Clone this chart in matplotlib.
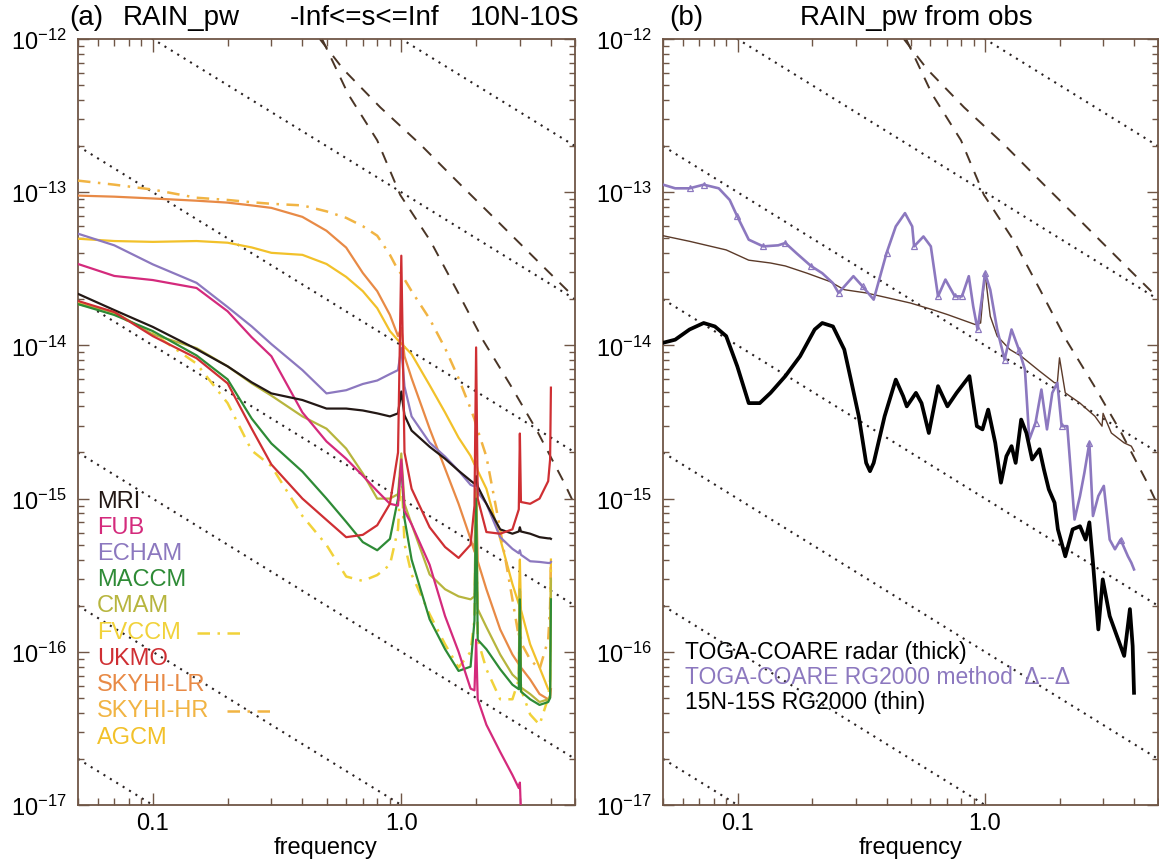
import numpy as np
import matplotlib
matplotlib.use("Agg")
import matplotlib.pyplot as plt
from matplotlib.lines import Line2D
from matplotlib.ticker import LogLocator, FixedLocator, FixedFormatter, NullFormatter

plt.rcParams['font.family'] = ['Liberation Sans', 'DejaVu Sans']
plt.rcParams['mathtext.fontset'] = 'custom'
plt.rcParams['mathtext.rm'] = 'Liberation Sans'
plt.rcParams['mathtext.it'] = 'Liberation Sans:italic'
plt.rcParams['mathtext.bf'] = 'Liberation Sans:bold'

nan = float('nan')

# ---------------- data: panel (a) models ----------------
freq_models = [0.05, 0.07, 0.1, 0.15, 0.2, 0.25, 0.3, 0.4, 0.5, 0.6, 0.7, 0.8, 0.9, 0.97, 1.0,
               1.03, 1.1, 1.3, 1.5, 1.7, 1.9, 1.97, 2.0, 2.03, 2.2, 2.5, 2.8, 2.97, 3.0, 3.03,
               3.3, 3.6, 3.9, 3.97, 4.0]

mri = [2.17e-14, 1.7e-14, 1.32e-14, 9.45e-15, 7.3e-15, 5.74e-15, 4.86e-15, 4.4e-15, 3.87e-15, 3.87e-15,
       3.76e-15, 3.6e-15, 3.44e-15, 3.6e-15, 5.0e-15, 3.5e-15, 2.78e-15, 2.18e-15, 1.82e-15, 1.52e-15,
       1.31e-15, 1.25e-15, 1.4e-15, 1.2e-15, 9.25e-16, 6.3e-16, 5.9e-16, 6.1e-16, 6.5e-16, 6.1e-16,
       5.9e-16, 5.6e-16, 5.5e-16, 5.5e-16, 5.46e-16]
fub = [3.4e-14, 2.84e-14, 2.67e-14, 2.37e-14, 1.67e-14, 1.13e-14, 8.5e-15, 3.65e-15, 2.36e-15, 1.82e-15,
       1.41e-15, 1.12e-15, 9.25e-16, 9.0e-16, 1.8e-15, 8.3e-16, 6.8e-16, 3.7e-16, 1.71e-16, 1.0e-16,
       5.75e-17, 5.6e-17, 1.2e-16, 4.9e-17, 3.34e-17, 2.22e-17, 1.57e-17, 1.29e-17, 1.4e-17, 9.0e-18,
       nan, nan, nan, nan, nan]
echam = [5.36e-14, 4.5e-14, 3.38e-14, 2.56e-14, 1.78e-14, 1.33e-14, 1.02e-14, 6.9e-15, 4.86e-15, 5.1e-15,
         5.6e-15, 5.9e-15, 6.5e-15, 6.9e-15, 9.6e-15, 5.4e-15, 3.44e-15, 2.32e-15, 1.88e-15, 1.52e-15,
         1.23e-15, 1.2e-15, 1.3e-15, 1.1e-15, 9.25e-16, 5.6e-16, 4.7e-16, 4.4e-16, 4.6e-16, 4.3e-16,
         3.9e-16, 3.86e-16, 3.8e-16, 3.8e-16, 3.86e-16]
maccm = [1.86e-14, 1.58e-14, 1.24e-14, 8.6e-15, 6.0e-15, 3.33e-15, 2.29e-15, 1.5e-15, 1.0e-15, 7.05e-16,
         5.2e-16, 4.6e-16, 5.46e-16, 1.0e-15, 1.69e-15, 7.4e-16, 4.0e-16, 1.63e-16, 1.04e-16, 7.5e-17,
         8.0e-17, 1.6e-16, 1.0e-15, 1.2e-16, 1.04e-16, 7.7e-17, 6.1e-17, 5.7e-17, 2.2e-16, 5.5e-17,
         4.9e-17, 4.5e-17, 4.7e-17, 5.0e-17, 2.2e-16]
cmam = [1.86e-14, 1.65e-14, 1.18e-14, 9.6e-15, 7.3e-15, 5.65e-15, 4.7e-15, 3.44e-15, 2.86e-15, 2.12e-15,
        1.46e-15, 1.0e-15, 1.0e-15, 1.07e-15, 1.97e-15, 9.25e-16, 6.8e-16, 3.2e-16, 2.56e-16, 2.3e-16,
        2.2e-16, 2.3e-16, 1.16e-15, 1.9e-16, 1.45e-16, 9.6e-17, 7.1e-17, 6.5e-17, 2.56e-16, 5.85e-17,
        5.3e-17, 4.7e-17, 4.9e-17, 5.2e-17, 3.0e-16]
fvccm = [1.89e-14, 1.6e-14, 1.2e-14, 7.6e-15, 4.2e-15, 2.06e-15, 1.63e-15, 7.7e-16, 4.98e-16, 3.1e-16,
         2.9e-16, 3.17e-16, 3.7e-16, 6.3e-16, 1.57e-15, 5.06e-16, 3.2e-16, 1.76e-16, 1.12e-16, 7.9e-17,
         1.0e-16, 1.63e-16, 1.0e-15, 1.2e-16, 7.7e-17, 4.9e-17, 4.9e-17, 6.6e-17, 2.56e-16, 5.7e-17,
         3.9e-17, 3.34e-17, 5.0e-17, 6.6e-17, 3.47e-16]
ukmo = [1.95e-14, 1.65e-14, 1.15e-14, 8.25e-15, 5.65e-15, 2.86e-15, 1.67e-15, 1.0e-15, 7.26e-16, 5.6e-16,
        5.8e-16, 6.7e-16, 9.25e-16, 2.0e-15, 3.85e-14, 2.0e-15, 1.16e-15, 6.5e-16, 4.83e-16, 4.1e-16,
        5.0e-16, 9.0e-16, 9.7e-15, 1.0e-15, 6.05e-16, 5.9e-16, 6.3e-16, 8.5e-16, 2.66e-15, 9.5e-16,
        9.25e-16, 1.0e-15, 1.3e-15, 1.8e-15, 5.3e-15]
skyhi_lr = [9.5e-14, 9.35e-14, 9.1e-14, 8.8e-14, 8.55e-14, 8.2e-14, 7.9e-14, 6.9e-14, 5.6e-14, 4.35e-14,
            2.97e-14, 2.26e-14, 1.58e-14, 1.15e-14, 1.3e-14, 8.5e-15, 6.1e-15, 2.86e-15, 1.57e-15, 9.25e-16,
            5.46e-16, 4.5e-16, 1.16e-15, 3.9e-16, 2.56e-16, 1.4e-16, 9.6e-17, 8.3e-17, 2.2e-16, 7.9e-17,
            6.6e-17, 5.3e-17, 4.9e-17, 5.0e-17, 5.7e-17]
skyhi_hr = [1.19e-13, 1.12e-13, 1.04e-13, 9.2e-14, 8.9e-14, 8.6e-14, 8.4e-14, 8.2e-14, 7.5e-14, 6.8e-14,
            6.0e-14, 5.2e-14, 3.9e-14, 3.1e-14, 2.93e-14, 2.7e-14, 2.26e-14, 1.49e-14, 9.6e-15, 6.1e-15,
            3.87e-15, 3.3e-15, 3.0e-15, 2.8e-15, 1.88e-15, 6.3e-16, 2.2e-16, 1.25e-16, 2.5e-16, 1.15e-16,
            8.9e-17, 7.7e-17, 1.2e-16, 2.0e-16, 4.0e-16]
agcm = [4.97e-14, 4.8e-14, 4.74e-14, 4.8e-14, 4.68e-14, 4.36e-14, 4.02e-14, 3.9e-14, 3.4e-14, 2.8e-14,
        2.26e-14, 1.75e-14, 1.24e-14, 1.08e-14, 1.03e-14, 9.8e-15, 8.76e-15, 5.5e-15, 3.65e-15, 2.5e-15,
        1.9e-15, 1.67e-15, 1.75e-15, 1.52e-15, 1.16e-15, 5.46e-16, 2.77e-16, 2.05e-16, 4.0e-16, 1.88e-16,
        1.12e-16, 7.9e-17, 5.7e-17, 5.7e-17, 4.0e-16]

model_names = ['MRI', 'FUB', 'ECHAM', 'MACCM', 'CMAM', 'FVCCM', 'UKMO', 'SKYHI-LR', 'SKYHI-HR', 'AGCM']
model_colors = ['#231815', '#d42a7c', '#8c78bf', '#2e8b36', '#b7b53e', '#f1d23a', '#cf2f33',
                '#e88a46', '#f1b443', '#f2c12a']

# ---------------- data: panel (b) observations ----------------
f_thin = [0.05, 0.064, 0.09, 0.111, 0.136, 0.156, 0.191, 0.235, 0.27, 0.331, 0.407, 0.50, 0.614, 0.705,
          0.807, 0.911, 0.96, 1.0, 1.05, 1.12, 1.26, 1.40, 1.66, 1.91, 1.96, 2.0, 2.11, 2.42, 2.78, 2.97,
          3.0, 3.24, 3.65, 3.9, 4.0]
p_thin = [5.2e-14, 4.78e-14, 4.2e-14, 3.6e-14, 3.45e-14, 3.3e-14, 2.96e-14, 2.62e-14, 2.31e-14, 2.2e-14,
          2.04e-14, 1.89e-14, 1.71e-14, 1.59e-14, 1.47e-14, 1.37e-14, 1.4e-14, 2.96e-14, 1.55e-14, 1.15e-14,
          9.4e-15, 8.5e-15, 6.8e-15, 5.7e-15, 5.7e-15, 8.3e-15, 4.9e-15, 4.2e-15, 3.45e-15, 2.97e-15,
          3.6e-15, 2.68e-15, 2.31e-15, 2.2e-15, 2.04e-15]

f_rg = [0.05, 0.056, 0.064, 0.073, 0.084, 0.093, 0.0998, 0.111, 0.127, 0.146, 0.156, 0.173, 0.198, 0.22,
        0.243, 0.256, 0.294, 0.32, 0.355, 0.40, 0.436, 0.475, 0.508, 0.517, 0.564, 0.604, 0.646, 0.692,
        0.755, 0.807, 0.86, 0.896, 0.933, 0.97, 1.0, 1.05, 1.12, 1.2, 1.28, 1.37, 1.45, 1.51, 1.60, 1.69,
        1.78, 1.87, 1.96, 2.04, 2.15, 2.3, 2.42, 2.52, 2.64, 2.73, 2.87, 3.02, 3.19, 3.35, 3.53, 3.78,
        3.9, 4.0]
p_rg = [1.12e-13, 1.06e-13, 1.06e-13, 1.12e-13, 1.06e-13, 8.9e-14, 6.95e-14, 4.9e-14, 4.43e-14, 4.5e-14,
        4.66e-14, 4.0e-14, 3.3e-14, 2.96e-14, 2.55e-14, 2.2e-14, 2.83e-14, 2.43e-14, 1.99e-14, 4.0e-14,
        5.98e-14, 7.3e-14, 5.98e-14, 4.43e-14, 5.14e-14, 4.43e-14, 2.09e-14, 2.69e-14, 2.09e-14, 2.09e-14,
        2.83e-14, 1.8e-14, 1.27e-14, 1.99e-14, 2.96e-14, 2.31e-14, 1.27e-14, 8.07e-15, 1.27e-14, 9.4e-15,
        6.95e-15, 2.43e-15, 3.13e-15, 5.15e-15, 2.83e-15, 4.9e-15, 5.7e-15, 2.97e-15, 2.97e-15, 7.3e-16,
        1.04e-15, 1.47e-15, 2.31e-15, 7.7e-16, 1.04e-15, 1.21e-15, 5.4e-16, 4.67e-16, 5.4e-16, 4.2e-16,
        3.82e-16, 3.45e-16]
rg_triangle_idx = [2, 3, 6, 8, 10, 12, 15, 17, 19, 23, 26, 28, 29, 32, 34, 37, 39, 42, 47, 52, 58]

f_radar = [0.05, 0.056, 0.064, 0.073, 0.081, 0.090, 0.0998, 0.111, 0.123, 0.136, 0.156, 0.179, 0.205,
           0.22, 0.243, 0.27, 0.289, 0.309, 0.331, 0.343, 0.355, 0.393, 0.436, 0.467, 0.483, 0.526, 0.554,
           0.593, 0.646, 0.705, 0.768, 0.865, 0.927, 0.977, 1.03, 1.10, 1.16, 1.22, 1.28, 1.33, 1.40, 1.47,
           1.55, 1.66, 1.73, 1.81, 1.91, 1.97, 2.11, 2.26, 2.42, 2.55, 2.64, 2.73, 2.87, 2.99, 3.19, 3.41,
           3.65, 3.85, 3.95, 4.0]
p_radar = [1.04e-14, 1.09e-14, 1.27e-14, 1.4e-14, 1.33e-14, 1.15e-14, 7.3e-15, 4.2e-15, 4.2e-15, 4.9e-15,
           6.3e-15, 8.5e-15, 1.27e-14, 1.4e-14, 1.33e-14, 9.4e-15, 5.7e-15, 3.45e-15, 1.71e-15, 1.51e-15,
           1.71e-15, 3.45e-15, 5.98e-15, 4.66e-15, 4.0e-15, 4.9e-15, 4.2e-15, 2.68e-15, 5.42e-15, 4.0e-15,
           4.9e-15, 6.3e-15, 2.97e-15, 2.83e-15, 3.81e-15, 2.31e-15, 1.27e-15, 1.89e-15, 2.2e-15, 1.71e-15,
           3.28e-15, 2.68e-15, 1.8e-15, 2.1e-15, 1.55e-15, 1.15e-15, 9.4e-16, 6.3e-16, 4.2e-16, 6.3e-16,
           6.6e-16, 5.4e-16, 7.0e-16, 3.82e-16, 1.4e-16, 2.97e-16, 1.71e-16, 1.27e-16, 9.4e-17, 1.9e-16,
           1.09e-16, 5.4e-17]

# ---------------- reference lines ----------------
dotted_const = [1e-12, 1e-13, 1e-14, 1e-15, 1e-16, 1e-17, 1e-18]   # lines P = c / f
dashA_f = [0.48, 0.611, 0.80, 0.99, 1.31, 1.68, 2.14, 2.75, 3.53, 4.5, 5.0]
dashA_p = [1.0e-12, 4.37e-13, 2.18e-13, 9.6e-14, 4.8e-14, 2.26e-14, 1.07e-14, 5.5e-15, 2.74e-15, 1.29e-15, 9.0e-16]
dashB_f = [0.47, 0.584, 0.823, 1.193, 1.73, 2.51, 3.64, 5.0]
dashB_p = [1.0e-12, 6.35e-13, 3.58e-13, 2.05e-13, 1.12e-13, 6.17e-14, 3.39e-14, 2.04e-14]

xtick_vals = [0.1, 1.0]
xtick_labels = ['0.1', '1.0']
ytick_vals = [1e-17, 1e-16, 1e-15, 1e-14, 1e-13, 1e-12]
ytick_labels = [r'$\mathregular{10^{-17}}$', r'$\mathregular{10^{-16}}$', r'$\mathregular{10^{-15}}$',
                r'$\mathregular{10^{-14}}$', r'$\mathregular{10^{-13}}$', r'$\mathregular{10^{-12}}$']

# ---------------- figure ----------------
W, H = 1159, 862
fig = plt.figure(figsize=(W / 100, H / 100), dpi=100)


def fx(px):
    return px / W


def fy(py):
    return 1 - py / H


TOP, BOT = 40, 806
ax_a = fig.add_axes([fx(78), fy(BOT), (575 - 78) / W, (BOT - TOP) / H])
ax_b = fig.add_axes([fx(663), fy(BOT), (1158 - 663) / W, (BOT - TOP) / H])

SPINE = '#6f5646'


def style(ax):
    ax.set_xscale('log')
    ax.set_yscale('log')
    ax.set_xlim(0.05, 5.0)
    ax.set_ylim(1e-17, 1e-12)
    for s in ax.spines.values():
        s.set_color(SPINE)
        s.set_linewidth(1.3)
    ax.tick_params(which='both', direction='in', top=True, right=True, color=SPINE, width=1.0)
    ax.tick_params(axis='x', which='major', length=9, pad=5, labelsize=17)
    ax.tick_params(axis='x', which='minor', length=5)
    ax.tick_params(axis='y', which='major', length=8, pad=8, labelsize=17)
    ax.tick_params(axis='y', which='minor', length=4.5)
    ax.xaxis.set_major_locator(FixedLocator(xtick_vals))
    ax.xaxis.set_major_formatter(FixedFormatter(xtick_labels))
    ax.xaxis.set_minor_locator(LogLocator(base=10, subs=np.arange(2, 10) * 1.0, numticks=30))
    ax.xaxis.set_minor_formatter(NullFormatter())
    ax.yaxis.set_major_locator(FixedLocator(ytick_vals))
    ax.yaxis.set_major_formatter(FixedFormatter(ytick_labels))
    ax.yaxis.set_minor_locator(LogLocator(base=10, subs=np.arange(2, 10) * 1.0, numticks=30))
    ax.yaxis.set_minor_formatter(NullFormatter())
    # reference lines
    fl = np.array([0.05, 5.0])
    for c in dotted_const:
        ax.plot(fl, c / fl, color='#2a2222', lw=1.5, ls=(0, (1, 2.6)), zorder=1)
    ax.plot(dashA_f, dashA_p, color='#4a3526', lw=1.4, ls=(0, (6, 5)), zorder=1)
    ax.plot(dashB_f, dashB_p, color='#4a3526', lw=1.4, ls=(0, (6, 5)), zorder=1)


style(ax_a)
style(ax_b)

# ---- panel (a) curves ----
series = dict(zip(model_names, [mri, fub, echam, maccm, cmam, fvccm, ukmo, skyhi_lr, skyhi_hr, agcm]))
colors = dict(zip(model_names, model_colors))
dashdot = (0, (5, 3, 1, 3))
draw_order = ['AGCM', 'SKYHI-HR', 'SKYHI-LR', 'FVCCM', 'CMAM', 'MACCM', 'ECHAM', 'FUB', 'MRI', 'UKMO']
for name in draw_order:
    ls = dashdot if name in ('FVCCM', 'SKYHI-HR') else '-'
    lw = 1.8 if name in ('FVCCM', 'SKYHI-HR') else 1.6
    ax_a.plot(freq_models, series[name], color=colors[name], lw=lw, ls=ls, zorder=3)

# legend (a)
leg_y = [502, 528, 554, 580, 606, 633, 659, 685, 711, 738]
for name, yy in zip(model_names, leg_y):
    fig.text(fx(97), fy(yy), name, color=colors[name], fontsize=17, ha='left', va='center')
fig.add_artist(Line2D([fx(197), fx(242)], [fy(634), fy(634)], color=colors['FVCCM'], lw=1.8,
                      ls=dashdot, transform=fig.transFigure))
fig.add_artist(Line2D([fx(227), fx(271)], [fy(712), fy(712)], color=colors['SKYHI-HR'], lw=1.8,
                      ls=dashdot, transform=fig.transFigure))

# ---- panel (b) curves ----
ax_b.plot(f_thin, p_thin, color='#5b3a29', lw=1.0, zorder=3)
ax_b.plot(f_rg, p_rg, color='#8c78bf', lw=1.9, zorder=4, marker='^', markersize=5,
          markerfacecolor='none', markeredgecolor='#8c78bf', markeredgewidth=0.9,
          markevery=rg_triangle_idx)
ax_b.plot(f_radar, p_radar, color='black', lw=2.7, zorder=5)

fig.text(fx(685), fy(653), 'TOGA-COARE radar (thick)', color='black', fontsize=16.5, ha='left', va='center')
fig.text(fx(685), fy(678), 'TOGA-COARE RG2000 method  \u0394--\u0394', color='#8c78bf', fontsize=16.5,
         ha='left', va='center')
fig.text(fx(685), fy(703), '15N-15S RG2000 (thin)', color='black', fontsize=16.5, ha='left', va='center')

# ---- titles and axis labels ----
fig.text(fx(69), fy(18), '(a)', fontsize=20, ha='left', va='center')
fig.text(fx(123), fy(18), 'RAIN_pw', fontsize=20, ha='left', va='center')
fig.text(fx(290), fy(18), '-Inf<=s<=Inf', fontsize=20, ha='left', va='center')
fig.text(fx(580), fy(18), '10N-10S', fontsize=20, ha='right', va='center')
fig.text(fx(669), fy(18), '(b)', fontsize=20, ha='left', va='center')
fig.text(fx(916), fy(18), 'RAIN_pw from obs', fontsize=20, ha='center', va='center')

fig.text(fx(326), fy(848), 'frequency', fontsize=17, ha='center', va='center')
fig.text(fx(911), fy(848), 'frequency', fontsize=17, ha='center', va='center')

fig.savefig('out.png', dpi=100)
